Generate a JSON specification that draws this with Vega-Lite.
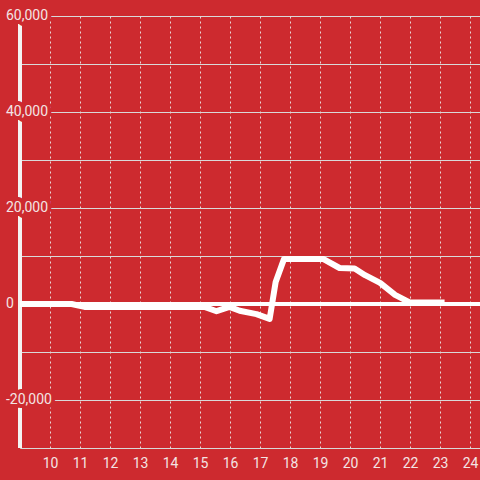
{
  "$schema": "https://vega.github.io/schema/vega-lite/v6.json",
  "width": 460,
  "height": 432,
  "autosize": {"type": "none"},
  "padding": {"left": 20, "top": 16, "right": 0, "bottom": 32},
  "background": "#cd2a2f",
  "config": {
    "view": {"stroke": null},
    "font": "Roboto",
    "axis": {"labelFont": "Roboto", "labelFontSize": 14, "labelColor": "#f3e4e4", "labelOverlap": false},
    "axisX": {
      "title": null,
      "format": "d",
      "grid": true,
      "gridColor": "#e8d6d6",
      "gridDash": [2, 3],
      "gridWidth": 1,
      "domain": true,
      "domainColor": "#d8d8d8",
      "domainWidth": 1,
      "ticks": false,
      "tickSize": 0,
      "labelPadding": 8
    },
    "axisY": {
      "title": null,
      "labels": false,
      "grid": true,
      "gridColor": "#d9d9d9",
      "gridWidth": 1,
      "domain": false,
      "ticks": false
    }
  },
  "datasets": {
    "series": [
      {"t": 9.0, "v": 0},
      {"t": 10.72, "v": 0},
      {"t": 11.15, "v": -600},
      {"t": 15.15, "v": -600},
      {"t": 15.55, "v": -1500},
      {"t": 15.98, "v": -600},
      {"t": 16.32, "v": -1400},
      {"t": 16.88, "v": -2100},
      {"t": 17.32, "v": -3100},
      {"t": 17.52, "v": 4600},
      {"t": 17.8, "v": 9400},
      {"t": 19.1, "v": 9400},
      {"t": 19.65, "v": 7500},
      {"t": 20.15, "v": 7400},
      {"t": 20.5, "v": 6000},
      {"t": 21.0, "v": 4400},
      {"t": 21.5, "v": 1900},
      {"t": 22.0, "v": 300},
      {"t": 23.15, "v": 300}
    ],
    "ylabels": [
      {"lv": 60000, "label": "60,000"},
      {"lv": 40000, "label": "40,000"},
      {"lv": 20000, "label": "20,000"},
      {"lv": 0, "label": "0"},
      {"lv": -20000, "label": "-20,000"}
    ]
  },
  "layer": [
    {
      "data": {"name": "series"},
      "mark": {"type": "rule", "color": "#f4f4f4", "strokeWidth": 3},
      "encoding": {
        "x": {"datum": 9, "type": "quantitative", "scale": {"domain": [9, 24.33], "nice": false, "zero": false}, "axis": {"values": [10, 11, 12, 13, 14, 15, 16, 17, 18, 19, 20, 21, 22, 23, 24]}}
      }
    },
    {
      "data": {"name": "ylabels"},
      "mark": {"type": "text", "align": "left", "baseline": "middle", "dx": -14, "fontSize": 14, "font": "Roboto", "fill": "#cd2a2f", "stroke": "#cd2a2f", "strokeWidth": 8, "strokeJoin": "round"},
      "encoding": {
        "x": {"datum": 9, "type": "quantitative", "axis": {"values": [10, 11, 12, 13, 14, 15, 16, 17, 18, 19, 20, 21, 22, 23, 24]}},
        "y": {"field": "lv", "type": "quantitative", "scale": {"domain": [-30000, 60000], "nice": false}, "axis": {"values": [-30000, -20000, -10000, 0, 10000, 20000, 30000, 40000, 50000, 60000]}},
        "text": {"field": "label"}
      }
    },
    {
      "data": {"name": "series"},
      "mark": {"type": "rule", "color": "#ffffff", "strokeWidth": 3},
      "encoding": {"y": {"datum": 0, "type": "quantitative", "axis": {"values": [-30000, -20000, -10000, 0, 10000, 20000, 30000, 40000, 50000, 60000]}}}
    },
    {
      "data": {"name": "series"},
      "mark": {"type": "line", "color": "#ffffff", "strokeWidth": 6, "strokeJoin": "round", "strokeCap": "butt"},
      "encoding": {
        "x": {"field": "t", "type": "quantitative", "axis": {"values": [10, 11, 12, 13, 14, 15, 16, 17, 18, 19, 20, 21, 22, 23, 24]}},
        "y": {"field": "v", "type": "quantitative", "axis": {"values": [-30000, -20000, -10000, 0, 10000, 20000, 30000, 40000, 50000, 60000]}}
      }
    },
    {
      "data": {"name": "ylabels"},
      "mark": {"type": "text", "align": "left", "baseline": "middle", "dx": -14, "fontSize": 14, "font": "Roboto", "fill": "#f3e4e4"},
      "encoding": {
        "x": {"datum": 9, "type": "quantitative", "axis": {"values": [10, 11, 12, 13, 14, 15, 16, 17, 18, 19, 20, 21, 22, 23, 24]}},
        "y": {"field": "lv", "type": "quantitative", "axis": {"values": [-30000, -20000, -10000, 0, 10000, 20000, 30000, 40000, 50000, 60000]}},
        "text": {"field": "label"}
      }
    }
  ]
}
